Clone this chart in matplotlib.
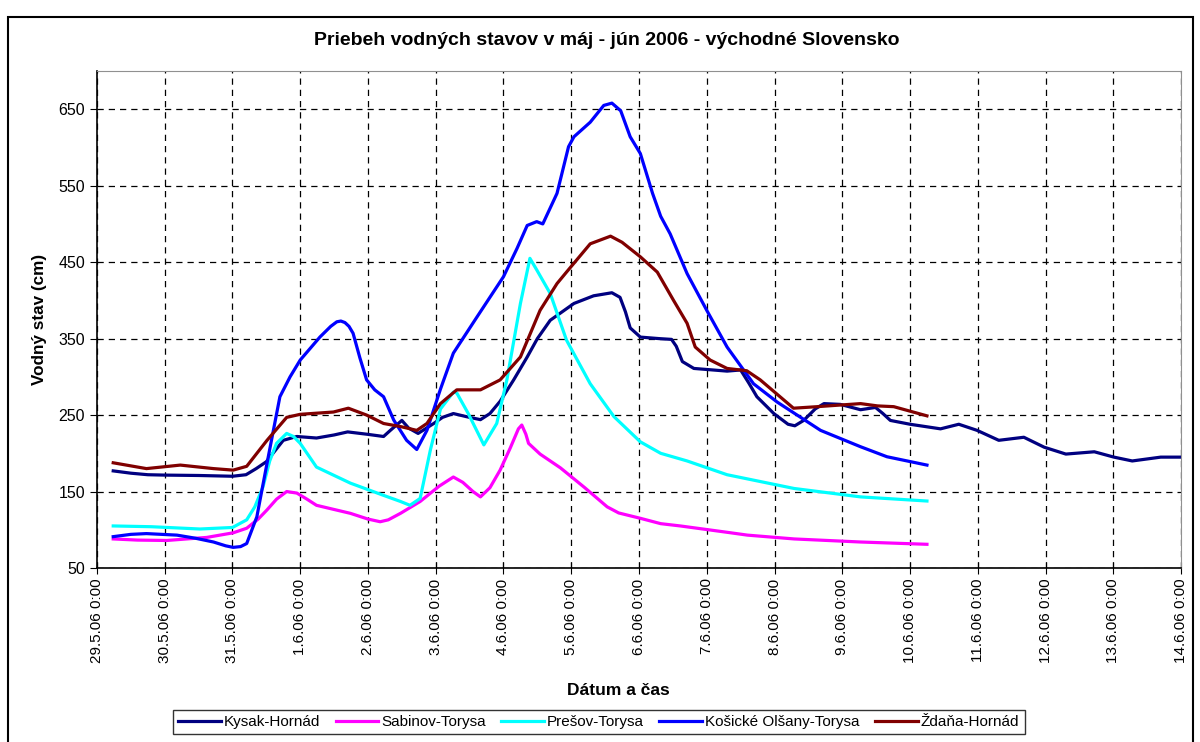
import matplotlib
matplotlib.use("Agg")
import matplotlib.pyplot as plt
from matplotlib.patches import Rectangle

plt.rcParams['font.family'] = ['Liberation Sans', 'DejaVu Sans']

# days counted from 29.5.06 0:00
tick_labels = ["29.5.06 0:00", "30.5.06 0:00", "31.5.06 0:00", "1.6.06 0:00",
               "2.6.06 0:00", "3.6.06 0:00", "4.6.06 0:00", "5.6.06 0:00",
               "6.6.06 0:00", "7.6.06 0:00", "8.6.06 0:00", "9.6.06 0:00",
               "10.6.06 0:00", "11.6.06 0:00", "12.6.06 0:00", "13.6.06 0:00",
               "14.6.06 0:00"]

kysak_t = [0.24, 0.5, 0.75, 1.0, 1.5, 2.0, 2.2, 2.35, 2.5, 2.75, 2.95, 3.24, 3.5,
           3.7, 3.98, 4.23, 4.33, 4.5, 4.6, 4.74, 4.97, 5.1, 5.26, 5.45, 5.66, 5.8,
           5.95, 6.15, 6.35, 6.5, 6.69, 7.04, 7.33, 7.6, 7.72, 7.8, 7.87, 8.02, 8.3,
           8.48, 8.55, 8.64, 8.81, 9.3, 9.5, 9.62, 9.74, 9.99, 10.2, 10.3, 10.43,
           10.6, 10.73, 10.97, 11.27, 11.49, 11.6, 11.71, 12.0, 12.45, 12.72, 12.99,
           13.31, 13.68, 13.98, 14.3, 14.72, 15.01, 15.28, 15.7, 16.0]
kysak_v = [177, 174, 172, 171.5, 171, 170, 172, 180, 189, 217, 222, 220, 224,
           228, 225, 222, 230, 243, 233, 226, 239, 247, 252, 248, 244, 252,
           268, 296, 326, 350, 374, 396, 406, 410, 404, 385, 364, 352, 350,
           349, 340, 320, 311, 307.5, 309, 292, 274, 252, 238, 236, 243,
           258, 265, 264, 257, 260, 252, 243, 238, 232, 238, 230,
           217, 221, 208, 199, 202, 195, 190, 195, 195]

sabinov_t = [0.24, 0.6, 1.03, 1.62, 2.01, 2.21, 2.38, 2.51, 2.65, 2.8, 2.95, 3.1,
             3.24, 3.74, 4.0, 4.18, 4.3, 4.48, 4.77, 5.05, 5.26, 5.4, 5.55, 5.66,
             5.8, 5.95, 6.1, 6.22, 6.27, 6.33, 6.37, 6.54, 6.84, 7.2, 7.53, 7.7,
             8.02, 8.32, 8.61, 9.3, 9.6, 10.29, 11.27, 12.25]
sabinov_v = [88, 86.5, 86, 90, 96, 102, 114, 126, 140, 150, 148, 140,
             132, 121.5, 114, 110.5, 113, 121.5, 137, 157, 169, 162, 150, 143,
             155, 178, 207, 232, 237, 225, 213, 199, 181, 155, 130, 122,
             115, 108, 105, 96.7, 93, 88, 84, 81]

presov_t = [0.24, 0.8, 1.52, 2.0, 2.21, 2.33, 2.45, 2.55, 2.65, 2.8, 2.9, 3.0,
            3.24, 3.74, 4.23, 4.48, 4.62, 4.77, 4.92, 5.07, 5.26, 5.31, 5.48,
            5.71, 5.9, 6.05, 6.25, 6.39, 6.49, 6.69, 6.93, 7.28, 7.63, 8.02, 8.32,
            8.71, 9.3, 10.29, 11.27, 12.25]
presov_v = [105, 104, 101, 103, 113, 130, 156, 190, 213, 226, 222, 213,
            182, 161, 145, 137, 132, 141, 204, 258, 280, 279, 252,
            211, 239, 296, 396, 455, 440, 409, 348, 291, 248, 215, 200,
            190, 172, 154, 143, 137.6]

kosice_t = [0.24, 0.5, 0.73, 1.18, 1.45, 1.72, 1.9, 2.01, 2.12, 2.21, 2.36, 2.51,
            2.7, 2.85, 3.0, 3.29, 3.45, 3.54, 3.6, 3.66, 3.72, 3.78, 3.88, 3.98,
            4.1, 4.23, 4.38, 4.57, 4.72, 4.87, 5.07, 5.26, 5.61, 6.0, 6.2, 6.35,
            6.49, 6.58, 6.79, 6.96, 7.04, 7.28, 7.48, 7.6, 7.73, 7.87, 8.02, 8.2,
            8.32, 8.46, 8.71, 9.0, 9.3, 9.69, 10.04, 10.68, 11.27, 11.66, 12.25]
kosice_v = [91, 94, 95, 93, 89, 84, 79, 77, 78, 82, 117, 187,
            274, 300, 322, 352, 366, 372, 373, 371, 366, 357, 325, 296,
            283, 274, 243.5, 217, 205, 230, 284, 331, 378.5, 431, 468, 498,
            503, 500, 540, 601, 614, 633, 655, 658, 648, 614, 592, 540,
            510, 487, 435, 387, 339, 291, 267, 230, 208.6, 195.5, 184.6]

zdana_t = [0.24, 0.73, 1.23, 1.72, 2.01, 2.21, 2.51, 2.8, 3.0, 3.49, 3.71, 3.98,
           4.23, 4.48, 4.72, 4.87, 5.07, 5.31, 5.66, 5.95, 6.25, 6.54, 6.79, 6.93,
           7.28, 7.58, 7.75, 8.02, 8.27, 8.51, 8.71, 8.83, 9.05, 9.3, 9.59, 9.79,
           10.28, 10.63, 11.27, 11.52, 11.76, 12.25]
zdana_v = [187.6, 180, 184.6, 180, 178, 183, 217, 247, 251, 254, 259, 250,
           239, 235, 230, 239, 265, 283, 283, 296, 326, 387, 422, 437,
           474, 484, 476, 457, 437, 400, 370, 339, 322, 311, 308, 296,
           259, 261, 265, 262, 261, 249]

fig = plt.figure(figsize=(12, 7.42), dpi=100)
ax = fig.add_axes([0.0808, 0.2345, 0.9034, 0.6698])

lw = 2.3
ax.plot(kysak_t, kysak_v, color='#000080', lw=lw, label='Kysak-Hornád')
ax.plot(sabinov_t, sabinov_v, color='#FF00FF', lw=lw, label='Sabinov-Torysa')
ax.plot(presov_t, presov_v, color='#00FFFF', lw=lw, label='Prešov-Torysa')
ax.plot(kosice_t, kosice_v, color='#0000FF', lw=lw, label='Košické Olšany-Torysa')
ax.plot(zdana_t, zdana_v, color='#800000', lw=lw, label='Ždaňa-Hornád')

ax.set_xlim(0, 16)
ax.set_ylim(50, 700)
ax.set_xticks(range(17))
ax.set_xticklabels(tick_labels, rotation=90, fontsize=11)
ax.set_yticks(range(50, 700, 100))
ax.tick_params(axis='y', labelsize=11.5, direction='out', length=5)
ax.tick_params(axis='x', direction='inout', length=8)
ax.grid(True, color='black', linestyle=(0, (5, 4)), linewidth=0.9)
ax.set_axisbelow(True)
for s in ['top', 'right']:
    ax.spines[s].set_color('#909090')
for s in ['left', 'bottom']:
    ax.spines[s].set_color('black')
    ax.spines[s].set_linewidth(1.2)

ax.set_ylabel('Vodný stav (cm)', fontsize=12.3, fontweight='bold', labelpad=8)
fig.text(0.515, 0.07, 'Dátum a čas', fontsize=12.5, fontweight='bold', ha='center', va='center')
fig.text(0.506, 0.946, 'Priebeh vodných stavov v máj - jún 2006 - východné Slovensko',
         fontsize=14, fontweight='bold', ha='center', va='center')

leg = fig.legend(loc='center', bbox_to_anchor=(0.499, 0.027), ncol=5, fontsize=11,
                 frameon=True, fancybox=False, edgecolor='black', handlelength=2.8,
                 handletextpad=0.2, columnspacing=1.0, borderpad=0.35)
leg.get_frame().set_linewidth(1.0)

fig.patches.append(Rectangle((0.0067, -0.05), 0.9875, 1.027, transform=fig.transFigure,
                             fill=False, edgecolor='black', linewidth=1.5))

fig.savefig('out.png', dpi=100)
